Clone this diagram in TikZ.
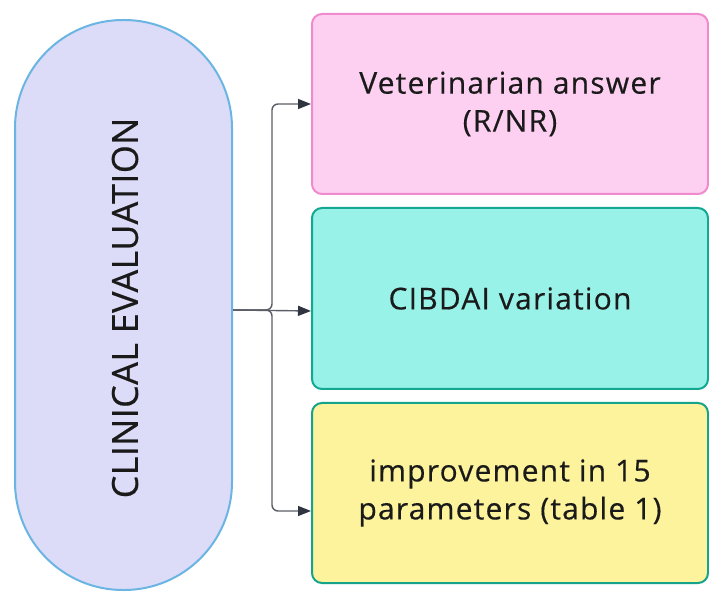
\documentclass[tikz,border=0pt]{standalone}
\usepackage{fontspec}
\setmainfont{Open Sans}
\newfontfamily\boxfont[LetterSpace=4,FakeBold=0.4]{Open Sans}
\newfontfamily\pillfont[LetterSpace=1,FakeBold=0.4]{Open Sans}
\usetikzlibrary{arrows.meta}
\definecolor{pillfill}{HTML}{DCDBF8}
\definecolor{pilldraw}{HTML}{6BB5E3}
\definecolor{pinkfill}{HTML}{FDD0F2}
\definecolor{pinkdraw}{HTML}{F08ACF}
\definecolor{tealfill}{HTML}{98F2E8}
\definecolor{tealdraw}{HTML}{12A892}
\definecolor{yellowfill}{HTML}{FCF39C}
\definecolor{yellowdraw}{HTML}{16A38C}
\definecolor{conn}{HTML}{5A5E66}
\definecolor{tipc}{HTML}{2F3440}
\definecolor{txt}{HTML}{1A1A1A}
\tikzset{
  x=1pt, y=1pt,
  pillbox/.style={draw=pilldraw, fill=pillfill, line width=2pt, rounded corners=108pt,
    minimum width=217pt, minimum height=570pt, inner sep=0pt},
  resbox/.style={line width=2pt, rounded corners=10pt, minimum width=396pt,
    minimum height=180pt, inner sep=0pt, align=center, text=txt,
    font=\boxfont\fontsize{30}{38}\selectfont},
  conline/.style={draw=conn, line width=1.4pt, rounded corners=6pt,
    -{Triangle[length=13pt,width=10pt,fill=tipc,color=tipc]}},
}
\begin{document}
\begin{tikzpicture}
\useasboundingbox (0,0) rectangle (709,592);
\fill[white] (0,0) rectangle (709,592);
\node[pillbox] (ce) at (123.5,287) {};
\node[rotate=90, text=txt, font=\pillfont\fontsize{36}{44}\selectfont] (cetext) at (125,284) {CLINICAL EVALUATION};
\node[resbox, draw=pinkdraw, fill=pinkfill] (vet) at (510,488) {Veterinarian answer\\(R/NR)};
\node[resbox, draw=tealdraw, fill=tealfill, minimum height=181pt] (cib) at (510,293.5) {CIBDAI variation};
\node[resbox, draw=yellowdraw, fill=yellowfill] (imp) at (510,99) {improvement in 15\\parameters (table 1)};
\coordinate (start) at (ce.east |- 0,282);
\coordinate (bus) at (272,282);
\coordinate (tvet) at (vet.west |- 0,488);
\coordinate (tcib) at (cib.west |- 0,281);
\coordinate (timp) at (imp.west |- 0,81);
\draw[conline] (start) -- (bus) |- (tvet);
\draw[conline] (start) -- (tcib);
\draw[conline] (start) -- (bus) |- (timp);
\end{tikzpicture}
\end{document}
